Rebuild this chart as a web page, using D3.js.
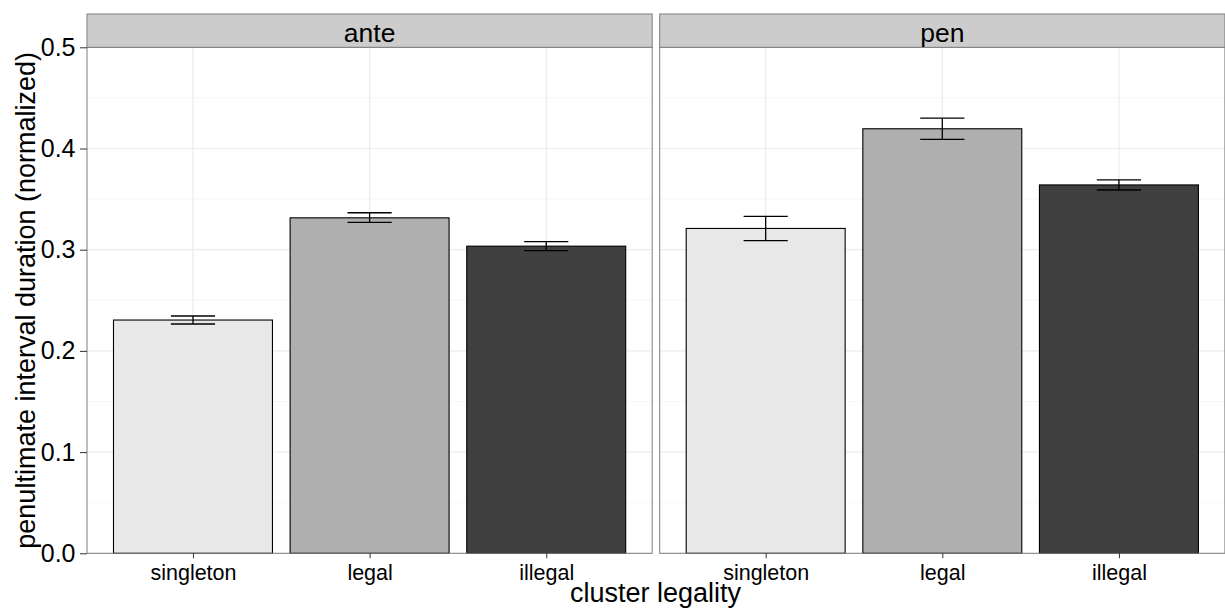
<!DOCTYPE html>
<html>
<head>
<meta charset="utf-8">
<script src="https://cdn.jsdelivr.net/npm/d3@7"></script>
<style>
  body { margin: 0; background: #fff; }
  svg text { font-family: "Liberation Sans", Arial, Helvetica, sans-serif; fill: #000; }
</style>
</head>
<body>
<div id="chart"></div>
<script>
// data
let facets = ["ante", "pen"];
let categories = ["singleton", "legal", "illegal"];
let fills = ["#E8E8E8", "#AFAFAF", "#404040"];

let anteMeans = [0.2305, 0.3315, 0.3035];
let anteLower = [0.2266, 0.3270, 0.2990];
let anteUpper = [0.2345, 0.3365, 0.3080];

let penMeans = [0.3210, 0.4195, 0.3640];
let penLower = [0.3090, 0.4090, 0.3590];
let penUpper = [0.3330, 0.4300, 0.3690];

let yTicks = [0, 0.1, 0.2, 0.3, 0.4, 0.5];
let yMinor = [0.05, 0.15, 0.25, 0.35, 0.45];

let panelData = {
    ante: categories.map((c, i) => ({cat: c, mean: anteMeans[i], lo: anteLower[i], hi: anteUpper[i], fill: fills[i]})),
    pen: categories.map((c, i) => ({cat: c, mean: penMeans[i], lo: penLower[i], hi: penUpper[i], fill: fills[i]}))
};

let W = 1225, H = 608;
let panelTop = 47.3, panelBottom = 553.3, stripTop = 14;
let panelLefts = [87, 659.7];
let panelW = 565.2;

let svg = d3.select("#chart").append("svg")
    .attr("width", W)
    .attr("height", H);

let y = d3.scaleLinear()
    .domain([0, 0.5])
    .range([panelBottom, panelTop]);

facets.forEach((f, fi) => {
    let left = panelLefts[fi];
    let x = d3.scalePoint()
        .domain(categories)
        .range([0, panelW])
        .padding(0.6);
    let step = x.step();

    let g = svg.append("g")
        .attr("transform", `translate(${left},0)`);

    // panel bg
    g.append("rect")
        .attr("x", 0).attr("y", panelTop)
        .attr("width", panelW).attr("height", panelBottom - panelTop)
        .attr("fill", "#fff");

    // grid lines
    g.selectAll(".minor").data(yMinor).enter().append("line")
        .attr("x1", 0).attr("x2", panelW)
        .attr("y1", d => y(d)).attr("y2", d => y(d))
        .attr("stroke", "#F6F6F6").attr("stroke-width", 1);
    g.selectAll(".major").data(yTicks).enter().append("line")
        .attr("x1", 0).attr("x2", panelW)
        .attr("y1", d => y(d)).attr("y2", d => y(d))
        .attr("stroke", "#EBEBEB").attr("stroke-width", 1.2);
    g.selectAll(".vmajor").data(categories).enter().append("line")
        .attr("x1", d => x(d)).attr("x2", d => x(d))
        .attr("y1", panelTop).attr("y2", panelBottom)
        .attr("stroke", "#EBEBEB").attr("stroke-width", 1.2);

    let data = panelData[f];

    // bars
    g.selectAll(".bar").data(data).enter().append("rect")
        .attr("x", d => x(d.cat) - step * 0.45)
        .attr("width", step * 0.9)
        .attr("y", d => y(d.mean))
        .attr("height", d => y(0) - y(d.mean))
        .attr("fill", d => d.fill)
        .attr("stroke", "#000")
        .attr("stroke-width", 1.1);

    // error bars
    let eb = g.selectAll(".err").data(data).enter().append("g")
        .attr("stroke", "#000").attr("stroke-width", 1.3);
    eb.append("line")
        .attr("x1", d => x(d.cat)).attr("x2", d => x(d.cat))
        .attr("y1", d => y(d.lo)).attr("y2", d => y(d.hi));
    eb.append("line")
        .attr("x1", d => x(d.cat) - step * 0.125).attr("x2", d => x(d.cat) + step * 0.125)
        .attr("y1", d => y(d.lo)).attr("y2", d => y(d.lo));
    eb.append("line")
        .attr("x1", d => x(d.cat) - step * 0.125).attr("x2", d => x(d.cat) + step * 0.125)
        .attr("y1", d => y(d.hi)).attr("y2", d => y(d.hi));

    // panel border
    g.append("rect")
        .attr("x", 0).attr("y", panelTop)
        .attr("width", panelW).attr("height", panelBottom - panelTop)
        .attr("fill", "none")
        .attr("stroke", "#7F7F7F").attr("stroke-width", 1);

    // strip
    g.append("rect")
        .attr("x", 0).attr("y", stripTop)
        .attr("width", panelW).attr("height", panelTop - stripTop)
        .attr("fill", "#CCCCCC")
        .attr("stroke", "#7F7F7F").attr("stroke-width", 1);
    g.append("text")
        .attr("x", panelW / 2).attr("y", 41.5)
        .attr("text-anchor", "middle")
        .attr("font-size", "26.5px")
        .text(f);

    // x axis
    let xAxis = g.append("g")
        .attr("transform", `translate(0,${panelBottom})`)
        .call(d3.axisBottom(x).tickSize(5).tickPadding(6));
    xAxis.select(".domain").remove();
    xAxis.selectAll("line").attr("stroke", "#333");
    xAxis.selectAll("text")
        .attr("font-size", "21.5px")
        .attr("font-family", "Liberation Sans, Arial, sans-serif")
        .attr("fill", "#000");

    if (fi === 0) {
        let yAxis = g.append("g")
            .call(d3.axisLeft(y).tickValues(yTicks).tickFormat(d3.format(".1f")).tickSize(7).tickPadding(4.5));
        yAxis.select(".domain").remove();
        yAxis.selectAll("line").attr("stroke", "#333");
        yAxis.selectAll("text")
            .attr("font-size", "25px")
            .attr("font-family", "Liberation Sans, Arial, sans-serif")
            .attr("fill", "#000");
    }
});

// axis titles
svg.append("text")
    .attr("x", 655.5).attr("y", 601.5)
    .attr("text-anchor", "middle")
    .attr("font-size", "27px")
    .text("cluster legality");

svg.append("text")
    .attr("transform", `translate(35,${(panelTop + panelBottom) / 2}) rotate(-90)`)
    .attr("text-anchor", "middle")
    .attr("font-size", "27px")
    .text("penultimate interval duration (normalized)");
</script>
</body>
</html>
